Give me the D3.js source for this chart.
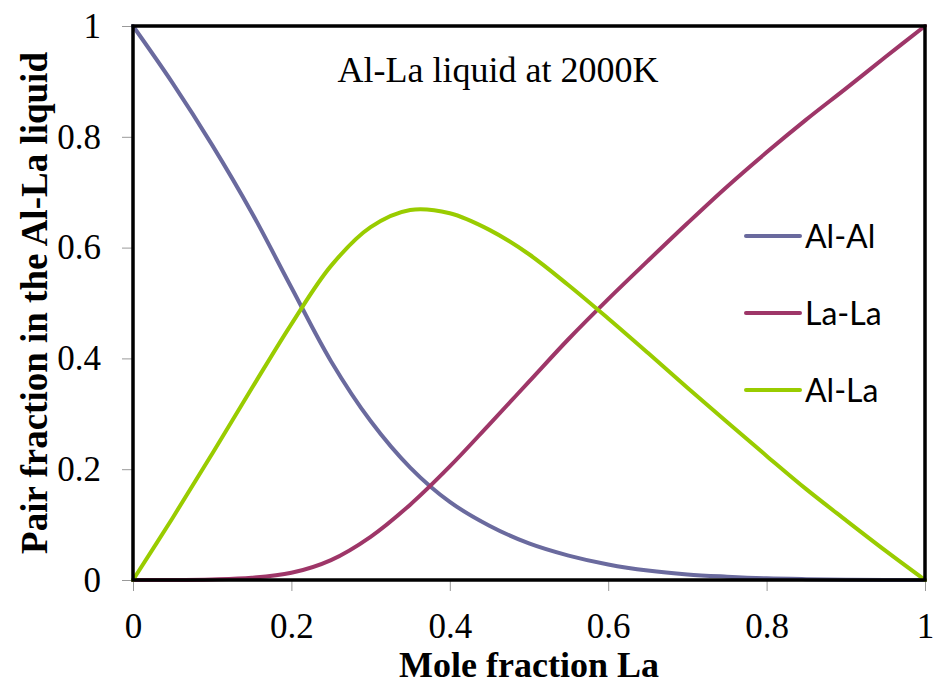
<!DOCTYPE html>
<html>
<head>
<meta charset="utf-8">
<script src="https://cdn.jsdelivr.net/npm/d3@7"></script>
<style>
  body { margin: 0; background: #fff; }
  svg { display: block; }
</style>
</head>
<body>
<div id="chart"></div>
<script>
// mole fraction La
const moleFraction = [0, 0.05, 0.1, 0.15, 0.2, 0.25, 0.3, 0.35, 0.4, 0.45, 0.5,
  0.55, 0.6, 0.65, 0.7, 0.75, 0.8, 0.85, 0.9, 0.95, 1]
const alAl = [1, 0.897, 0.785, 0.663, 0.528, 0.395, 0.287, 0.203, 0.141, 0.098, 0.066,
  0.044, 0.028, 0.017, 0.01, 0.006, 0.003, 0.0015, 0.0006, 0.0001, 0]
const laLa = [0, 0, 0.001, 0.004, 0.013, 0.036, 0.078, 0.136, 0.205, 0.281, 0.358,
  0.435, 0.507, 0.576, 0.644, 0.71, 0.772, 0.831, 0.887, 0.944, 1]
const alLa = [0, 0.112, 0.228, 0.346, 0.462, 0.567, 0.637, 0.668, 0.662, 0.632, 0.588,
  0.532, 0.472, 0.41, 0.347, 0.285, 0.224, 0.164, 0.108, 0.053, 0]
const seriesNames = ['Al-Al', 'La-La', 'Al-La']
const seriesColors = ['#6a6a9e', '#9e3668', '#99cc00']
const xTicks = [0, 0.2, 0.4, 0.6, 0.8, 1]
const yTicks = [0, 0.2, 0.4, 0.6, 0.8, 1]

const width = 933
const height = 684
const margin = { left: 133, right: 8, top: 26, bottom: 104 }
const plotW = width - margin.left - margin.right
const plotH = height - margin.top - margin.bottom

const svg = d3.select('#chart')
  .append('svg')
  .attr('width', width)
  .attr('height', height)

const x = d3.scaleLinear().domain([0, 1]).range([margin.left, margin.left + plotW])
const y = d3.scaleLinear().domain([0, 1]).range([margin.top + plotH, margin.top])

const serif = '"Liberation Serif", "Times New Roman", serif'

// axes
const xAxis = svg.append('g')
  .attr('transform', `translate(0,${margin.top + plotH})`)
  .call(d3.axisBottom(x).tickValues(xTicks).tickSize(11).tickPadding(8)
    .tickFormat(d3.format('~g')))
const yAxis = svg.append('g')
  .attr('transform', `translate(${margin.left},0)`)
  .call(d3.axisLeft(y).tickValues(yTicks).tickSize(11).tickPadding(21)
    .tickFormat(d3.format('~g')))

;[xAxis, yAxis].forEach(g => {
  g.select('.domain').remove()
  g.selectAll('line').attr('stroke', '#999').attr('stroke-width', 1)
  g.selectAll('text')
    .attr('font-family', serif)
    .attr('font-size', 35)
    .attr('fill', '#000')
})
xAxis.selectAll('text').attr('dy', '1.1em')

// series
const lineGen = d3.line()
  .x(d => x(d[0]))
  .y(d => y(d[1]))
  .curve(d3.curveCatmullRom.alpha(0.5))

const seriesValues = [alAl, laLa, alLa]
seriesValues.forEach((vals, i) => {
  svg.append('path')
    .datum(moleFraction.map((m, j) => [m, vals[j]]))
    .attr('d', lineGen)
    .attr('fill', 'none')
    .attr('stroke', seriesColors[i])
    .attr('stroke-width', 4)
    .attr('stroke-linecap', 'round')
})

// frame
svg.append('rect')
  .attr('x', margin.left)
  .attr('y', margin.top)
  .attr('width', plotW)
  .attr('height', plotH)
  .attr('fill', 'none')
  .attr('stroke', '#000')
  .attr('stroke-width', 3.5)

// legend
const legend = svg.append('g')
seriesNames.forEach((name, i) => {
  const ly = 236 + i * 77
  legend.append('line')
    .attr('x1', 746).attr('x2', 800)
    .attr('y1', ly).attr('y2', ly)
    .attr('stroke', seriesColors[i])
    .attr('stroke-width', 4)
    .attr('stroke-linecap', 'round')
  legend.append('text')
    .attr('x', 805)
    .attr('y', ly)
    .attr('dy', '0.36em')
    .attr('font-family', 'Lato, "Open Sans", sans-serif')
    .attr('font-size', 32)
    .text(name)
})

// titles
svg.append('text')
  .attr('x', 498)
  .attr('y', 82)
  .attr('text-anchor', 'middle')
  .attr('font-family', serif)
  .attr('font-size', 36)
  .text('Al-La liquid at 2000K')

svg.append('text')
  .attr('x', margin.left + plotW / 2)
  .attr('y', 677)
  .attr('text-anchor', 'middle')
  .attr('font-family', serif)
  .attr('font-weight', 'bold')
  .attr('font-size', 36)
  .text('Mole fraction La')

svg.append('text')
  .attr('transform', `translate(47,${margin.top + plotH / 2}) rotate(-90)`)
  .attr('text-anchor', 'middle')
  .attr('font-family', serif)
  .attr('font-weight', 'bold')
  .attr('font-size', 37)
  .text('Pair fraction in the Al-La liquid')
</script>
</body>
</html>
